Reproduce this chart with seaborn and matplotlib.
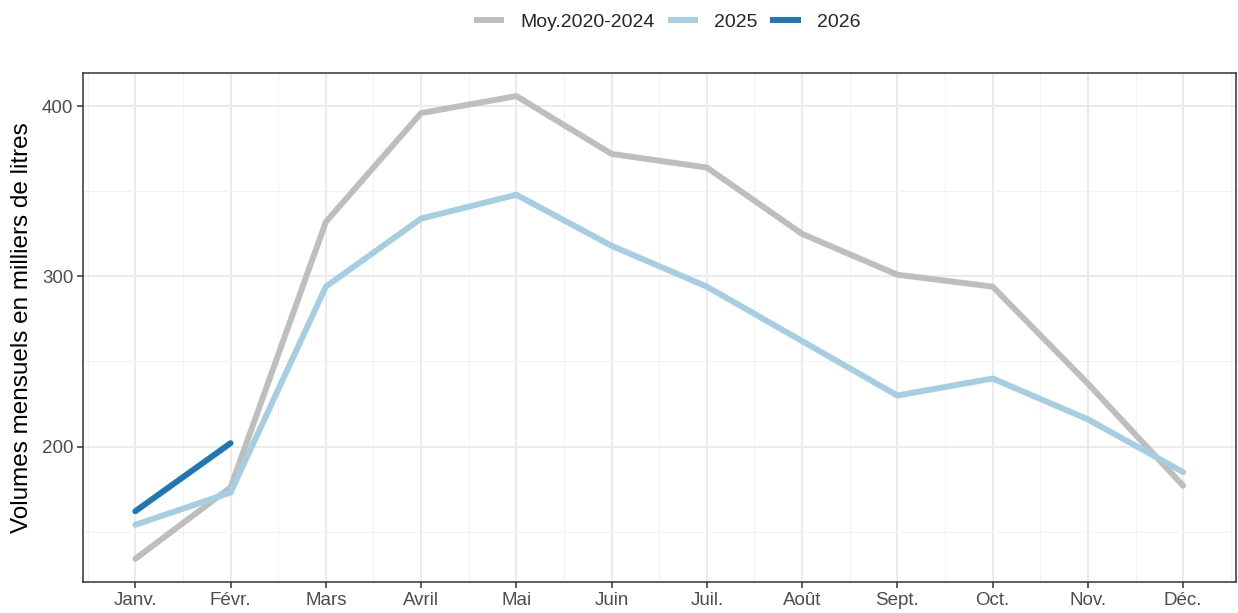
import pandas as pd
import matplotlib
matplotlib.use("Agg")
import matplotlib.pyplot as plt
import seaborn as sns

# --- data ---
months = ["Janv.", "Févr.", "Mars", "Avril", "Mai", "Juin",
          "Juil.", "Août", "Sept.", "Oct.", "Nov.", "Déc."]
moy_2020_2024 = [134, 176, 332, 396, 406, 372, 364, 325, 301, 294, 237, 177]
vol_2025 = [154, 173, 294, 334, 348, 318, 294, 262, 230, 240, 216, 185]
vol_2026 = [162, 202]

series_names = ["Moy.2020-2024", "2025", "2026"]
colors = ["#BEBEBE", "#A6CEE3", "#1F78B4"]

# long format for seaborn
frames = []
for name, vals in zip(series_names, [moy_2020_2024, vol_2025, vol_2026]):
    frames.append(pd.DataFrame({
        "mois": range(1, len(vals) + 1),
        "volume": vals,
        "serie": name,
    }))
df = pd.concat(frames, ignore_index=True)

sns.set_theme(style="whitegrid")
plt.rcParams["font.family"] = ["Liberation Sans", "DejaVu Sans"]

fig, ax = plt.subplots(figsize=(12.38, 6.13), dpi=100)
fig.subplots_adjust(left=0.067, right=0.998, top=0.881, bottom=0.0506)

sns.lineplot(data=df, x="mois", y="volume", hue="serie",
             hue_order=series_names, palette=colors,
             linewidth=4.3, ax=ax, sort=False)

# axes limits like ggplot's 5% expansion
lo, hi = df["volume"].min(), df["volume"].max()
pad = (hi - lo) * 0.05
ax.set_ylim(lo - pad, hi + pad)
ax.set_xlim(1 - 11 * 0.05, 12 + 11 * 0.05)

ax.set_xticks(range(1, 13))
ax.set_xticklabels(months)
ax.set_xticks([m + 0.5 for m in range(0, 13)], minor=True)
ax.set_yticks([200, 300, 400])
ax.set_yticks([150, 250, 350], minor=True)

ax.grid(True, which="major", color="#EBEBEB", linewidth=1.5)
ax.grid(True, which="minor", color="#F2F2F2", linewidth=0.8)
ax.set_axisbelow(True)

ax.tick_params(axis="both", which="major", length=4, width=1.1,
               color="#333333", labelsize=13.5, labelcolor="#4D4D4D",
               direction="out", pad=3)
ax.tick_params(axis="both", which="minor", length=0)
ax.tick_params(axis="x", bottom=True)
ax.tick_params(axis="y", left=True)

for spine in ax.spines.values():
    spine.set_color("#333333")
    spine.set_linewidth(1.1)

ax.set_xlabel("")
ax.set_ylabel("Volumes mensuels en milliers de litres", fontsize=17.5,
              color="black", labelpad=6)

leg = ax.legend(title=None, loc="center", bbox_to_anchor=(0.507, 1.1),
                ncol=3, frameon=False, fontsize=14, handlelength=1.55,
                handletextpad=0.85, columnspacing=0.65)
for line in leg.get_lines():
    line.set_solid_capstyle("butt")

plt.savefig("out.png", dpi=100)
plt.close()
